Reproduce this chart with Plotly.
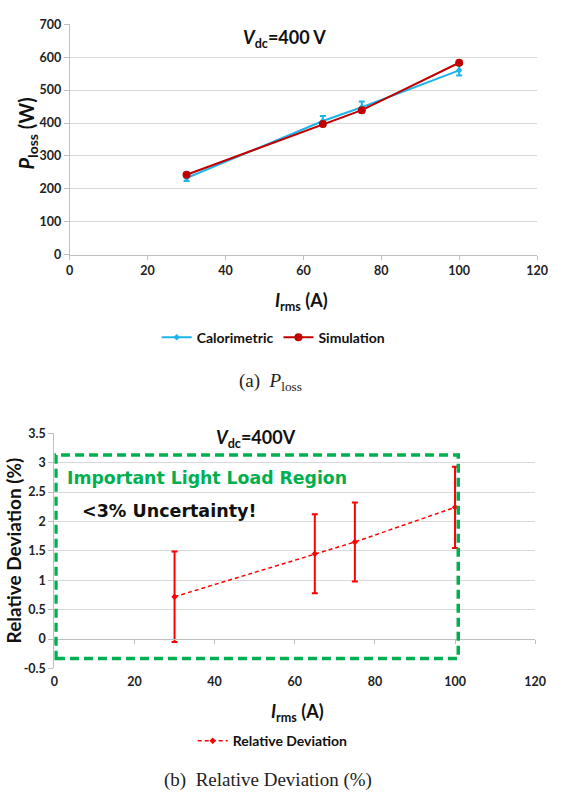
import plotly.graph_objects as go

# ---- data ----
current = [30, 65, 75, 100]                  # I_rms (A)
calorimetric = [233, 406, 448, 560]          # measured P_loss (W)
calorimetric_err = [9, 15, 17, 16]           # measurement uncertainty (W)
simulation = [243, 397, 439, 583]            # simulated P_loss (W)
rel_dev = [0.72, 1.45, 1.65, 2.24]           # relative deviation (%)
rel_dev_err = [0.77, 0.67, 0.67, 0.69]       # uncertainty of the deviation (%)

x_ticks = [0, 20, 40, 60, 80, 100, 120]
p_ticks = [0, 100, 200, 300, 400, 500, 600, 700]
d_ticks = [-0.5, 0, 0.5, 1, 1.5, 2, 2.5, 3, 3.5]

# light-load region box (x0, x1, y0, y1) in data units of the lower chart
region_box = (0.4, 100.8, -0.33, 3.13)

W, H = 568, 804
BLUE = "#1EB4EA"
DARKRED = "#C00000"
RED = "#FF0000"
GREEN = "#00B050"
GRID = "#D9D9D9"
AXIS = "#BFBFBF"
SANS = "Lato"
SERIF = "Liberation Serif"


def px(x):
    return x / W


def py(y):
    return 1 - y / H


fig = go.Figure()

# upper chart: power loss
fig.add_trace(go.Scatter(
    x=current, y=calorimetric, name="Calorimetric", mode="lines+markers",
    line=dict(color=BLUE, width=2), marker=dict(symbol="diamond", size=5, color=BLUE),
    error_y=dict(type="data", array=calorimetric_err, color=BLUE, thickness=2, width=3),
    xaxis="x", yaxis="y", legend="legend",
))
fig.add_trace(go.Scatter(
    x=current, y=simulation, name="Simulation", mode="lines+markers",
    line=dict(color=DARKRED, width=2), marker=dict(symbol="circle", size=8, color=DARKRED),
    xaxis="x", yaxis="y", legend="legend",
))

# lower chart: relative deviation
fig.add_trace(go.Scatter(
    x=current, y=rel_dev, name="Relative Deviation", mode="lines+markers",
    line=dict(color=RED, width=1.5, dash="4px,3px"), marker=dict(symbol="diamond", size=5, color=RED),
    error_y=dict(type="data", array=rel_dev_err, color=RED, thickness=2, width=3),
    xaxis="x2", yaxis="y2", legend="legend2",
))

tickfont = dict(family=SANS, size=12.5, color="#222222", weight="bold")

fig.update_layout(
    width=W, height=H,
    margin=dict(l=0, r=0, t=0, b=0),
    paper_bgcolor="white", plot_bgcolor="white",
    xaxis=dict(
        domain=[px(67.5), px(547.5)], range=[0, 120], tickvals=x_ticks,
        showgrid=False, zeroline=False, showline=True, linecolor=AXIS, linewidth=1,
        ticks="outside", ticklen=4, tickcolor=AXIS, tickfont=tickfont, anchor="y",
    ),
    yaxis=dict(
        domain=[py(251.5), py(16.5)], range=[0, 700], tickvals=p_ticks,
        showgrid=True, gridcolor=GRID, gridwidth=1, zeroline=False,
        showline=True, linecolor=AXIS, linewidth=1,
        ticks="outside", ticklen=5, tickcolor=AXIS, tickfont=tickfont, anchor="x",
    ),
    xaxis2=dict(
        domain=[px(51.7), px(545.6)], range=[0, 120], tickvals=x_ticks,
        showgrid=False, zeroline=False, showline=False, ticks="",
        ticklabelstandoff=4, tickfont=tickfont, anchor="y2",
    ),
    # axis line crossing at zero, carrying the tick marks
    xaxis3=dict(
        overlaying="x2", anchor="free",
        position=py(643), range=[0, 120], tickvals=x_ticks,
        showgrid=False, zeroline=False, showline=True, linecolor=AXIS, linewidth=1,
        ticks="outside", ticklen=4, tickcolor=AXIS, showticklabels=False,
    ),
    yaxis2=dict(
        domain=[py(673), py(433.3)], range=[-0.5, 3.5], tickvals=d_ticks,
        ticktext=[f"{v:g}" for v in d_ticks],
        showgrid=True, gridcolor=GRID, gridwidth=1, zeroline=False,
        showline=True, linecolor=AXIS, linewidth=1,
        ticks="outside", ticklen=5, tickcolor=AXIS, tickfont=tickfont, anchor="x2",
    ),
    legend=dict(
        orientation="h", x=px(277), y=py(336), xanchor="center", yanchor="middle",
        font=dict(family=SANS, size=14, color="#111111", weight="bold"),
        itemwidth=30, tracegroupgap=0, bgcolor="rgba(0,0,0,0)",
    ),
    legend2=dict(
        orientation="h", x=px(276), y=py(747), xanchor="center", yanchor="middle",
        font=dict(family=SANS, size=14, color="#111111", weight="bold"),
        itemwidth=30, bgcolor="rgba(0,0,0,0)",
    ),
    showlegend=True,
)

# keep the free axis alive with an empty trace
fig.add_trace(go.Scatter(x=[], y=[], xaxis="x3", yaxis="y2", showlegend=False, hoverinfo="skip"))

# dashed frame around the light-load region
x0, x1, y0, y1 = region_box
fig.add_shape(type="rect", xref="x2", yref="y2", x0=x0, x1=x1, y0=y0, y1=y1,
              line=dict(color=GREEN, width=3.5, dash="9px,5px"), fillcolor="rgba(0,0,0,0)")

ann = []
# axis titles
ann.append(dict(text="<b><i>I</i><sub>rms</sub> (A)</b>", x=px(306), y=py(299),
                font=dict(family=SANS, size=18, color="#111111")))
ann.append(dict(text="<b><i>I</i><sub>rms</sub> (A)</b>", x=px(301), y=py(718),
                font=dict(family=SANS, size=18, color="#111111")))
ann.append(dict(text="<b><i>P</i><sub>loss</sub> (W)</b>", x=px(24.5), y=py(128), textangle=-90,
                font=dict(family=SANS, size=20, color="#111111")))
ann.append(dict(text="<b>Relative Deviation (%)</b>", x=px(10), y=py(553), textangle=-90,
                font=dict(family=SANS, size=19, color="#111111")))
# voltage labels
ann.append(dict(text="<b><i>V</i><sub>dc</sub>=400 V</b>", x=px(288), y=py(31),
                font=dict(family=SANS, size=18, color="#111111")))
ann.append(dict(text="<b><i>V</i><sub>dc</sub>=400V</b>", x=px(259), y=py(439),
                font=dict(family=SANS, size=18, color="#111111")))
# region notes
ann.append(dict(text="<b>Important Light Load Region</b>", x=px(63), y=py(479), xanchor="left",
                font=dict(family="DejaVu Sans", size=17.3, color=GREEN)))
ann.append(dict(text="<b>&lt;3% Uncertainty!</b>", x=px(78), y=py(513), xanchor="left",
                font=dict(family="DejaVu Sans", size=17.5, color="#111111")))
# captions
ann.append(dict(text="(a)  <i>P</i><sub>loss</sub>", x=px(274), y=py(381),
                font=dict(family=SERIF, size=19, color="#222222")))
ann.append(dict(text="(b)  Relative Deviation (%)", x=px(271), y=py(787),
                font=dict(family=SERIF, size=19, color="#222222")))

for a in ann:
    a.setdefault("xanchor", "center")
    a.update(xref="paper", yref="paper", yanchor="middle", showarrow=False)
    fig.add_annotation(**a)

fig.write_html("out.html")
